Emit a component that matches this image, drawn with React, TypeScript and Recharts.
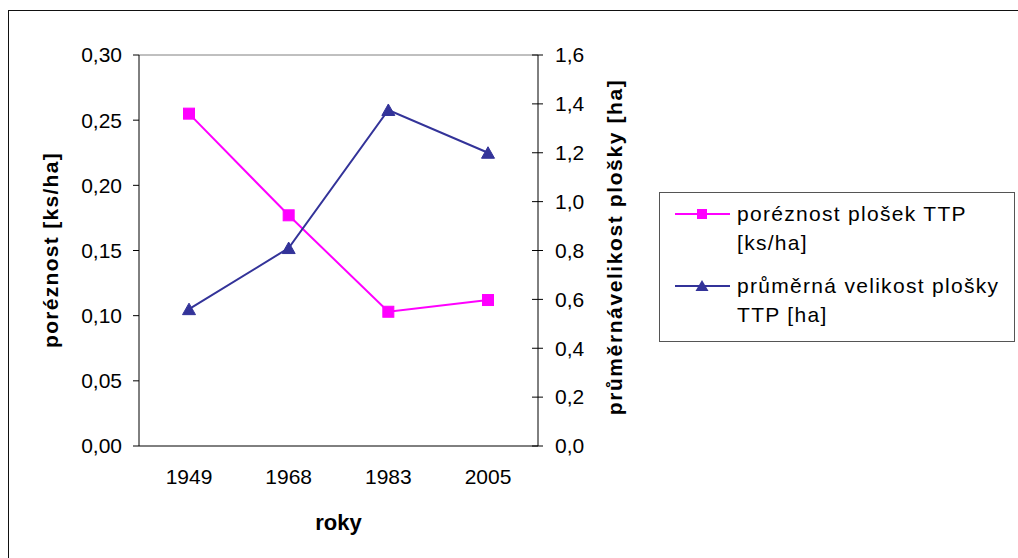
import React from "react";
import {
  LineChart,
  Line,
  XAxis,
  YAxis,
  Label,
  Legend,
  ReferenceLine,
} from "recharts";

const years = ["1949", "1968", "1983", "2005"];
const porosity = [0.255, 0.177, 0.103, 0.112];
const avgSize = [0.56, 0.81, 1.375, 1.2];
const leftTicks = [0, 0.05, 0.1, 0.15, 0.2, 0.25, 0.3];
const rightTicks = [0, 0.2, 0.4, 0.6, 0.8, 1.0, 1.2, 1.4, 1.6];
const porosityName = ["poréznost plošek TTP", "[ks/ha]"];
const sizeName = ["průměrná velikost plošky", "TTP [ha]"];

const data = years.map((y, i) => ({ year: y, porosity: porosity[i], size: avgSize[i] }));

const FONT = "'Liberation Sans', Arial, sans-serif";
const PINK = "#FF00FF";
const NAVY = "#333399";
const TICK_FS = 21;

const comma = (v: number, d: number) => v.toFixed(d).replace(".", ",");

const SquareDot = (props: any) => {
  const { cx, cy } = props;
  if (cx == null || cy == null) return null;
  return <rect x={cx - 5.5} y={cy - 5.5} width={11} height={11} fill={PINK} stroke={PINK} />;
};

const TriangleDot = (props: any) => {
  const { cx, cy } = props;
  if (cx == null || cy == null) return null;
  return (
    <polygon
      points={`${cx},${cy - 6} ${cx + 6.5},${cy + 5.5} ${cx - 6.5},${cy + 5.5}`}
      fill={NAVY}
      stroke={NAVY}
    />
  );
};

const RightTick = (props: any) => {
  const { x, y, payload } = props;
  const ax = x - 17;
  return (
    <g>
      <line x1={ax - 6} x2={ax + 5} y1={y} y2={y} stroke="#000" />
      <text x={x} y={y} dy="0.35em" textAnchor="start" fontSize={TICK_FS} fontFamily={FONT} fill="#000">
        {comma(payload.value, 1)}
      </text>
    </g>
  );
};

const LeftTitle = () => (
  <text
    x={50}
    y={250}
    transform="rotate(-90 50 250)"
    textAnchor="middle"
    dominantBaseline="central"
    fontSize={21}
    fontWeight="bold"
    letterSpacing={1.3}
    fontFamily={FONT}
    fill="#000"
  >
    poréznost [ks/ha]
  </text>
);

const RightTitle = () => (
  <text
    x={614}
    y={247}
    transform="rotate(-90 614 247)"
    textAnchor="middle"
    dominantBaseline="central"
    fontSize={21}
    fontWeight="bold"
    letterSpacing={1.6}
    fontFamily={FONT}
    fill="#000"
  >
    průměrnávelikost plošky [ha]
  </text>
);

const BottomTitle = (props: any) => {
  const vb = props.viewBox || { x: 139, width: 399 };
  return (
    <text
      x={vb.x + vb.width / 2}
      y={522}
      textAnchor="middle"
      dominantBaseline="central"
      fontSize={22}
      fontWeight="bold"
      fontFamily={FONT}
      fill="#000"
    >
      roky
    </text>
  );
};

const LegendBox = () => {
  const entries = [
    { lines: porosityName, color: PINK, shape: "square" },
    { lines: sizeName, color: NAVY, shape: "triangle" },
  ];
  return (
    <div
      style={{
        position: "relative",
        width: 354,
        height: 148,
        border: "1px solid #555",
        background: "#fff",
        fontFamily: FONT,
        fontSize: 21,
        letterSpacing: 1.3,
        color: "#000",
      }}
    >
      {entries.map((e, i) => (
        <div key={i} style={{ position: "absolute", left: 0, top: 6 + i * 72, width: 354 }}>
          <svg width={70} height={30} style={{ position: "absolute", left: 12, top: 0 }}>
            <line x1={3} x2={58} y1={15} y2={15} stroke={e.color} strokeWidth={2} />
            {e.shape === "square" ? (
              <rect x={25} y={10} width={10} height={10} fill={e.color} />
            ) : (
              <polygon points="30,9 36.5,20 23.5,20" fill={e.color} />
            )}
          </svg>
          {e.lines.map((t, j) => (
            <div
              key={j}
              style={{ position: "absolute", left: 77, top: j * 29, lineHeight: "30px", whiteSpace: "nowrap" }}
            >
              {t}
            </div>
          ))}
        </div>
      ))}
    </div>
  );
};

export default function App() {
  return (
    <div
      style={{
        position: "absolute",
        left: 0,
        top: 0,
        width: 1018,
        height: 558,
        background: "#fff",
        overflow: "hidden",
      }}
    >
      <div
        style={{
          position: "absolute",
          left: 8,
          top: 10,
          width: 1040,
          height: 580,
          border: "1px solid #111",
        }}
      />
      <div style={{ position: "absolute", left: 0, top: 0 }}>
        <LineChart
          width={1018}
          height={558}
          data={data}
          margin={{ top: 55, right: 380, bottom: 52, left: 20 }}
        >
          <XAxis
            dataKey="year"
            padding={{ left: 50, right: 50 }}
            tickLine={false}
            tickSize={0}
            tickMargin={23}
            axisLine={{ stroke: "#000" }}
            height={60}
            tick={{ fontSize: TICK_FS, fontFamily: FONT, fill: "#000" }}
          >
            <Label content={<BottomTitle />} />
          </XAxis>
          <YAxis
            yAxisId="left"
            width={119}
            domain={[0, 0.3]}
            ticks={leftTicks}
            tickFormatter={(v: number) => comma(v, 2)}
            tickSize={6}
            tickMargin={11}
            axisLine={{ stroke: "#000" }}
            tickLine={{ stroke: "#000" }}
            tick={{ fontSize: TICK_FS, fontFamily: FONT, fill: "#000" }}
          >
            <Label content={<LeftTitle />} />
          </YAxis>
          <YAxis
            yAxisId="right"
            orientation="right"
            width={100}
            domain={[0, 1.6]}
            ticks={rightTicks}
            tickSize={0}
            tickMargin={17}
            tickLine={false}
            axisLine={{ stroke: "#000" }}
            tick={<RightTick />}
          >
            <Label content={<RightTitle />} />
          </YAxis>
          <ReferenceLine yAxisId="left" y={0.3} stroke="#808080" />
          <Legend
            layout="horizontal"
            verticalAlign="middle"
            align="center"
            content={<LegendBox />}
            wrapperStyle={{ left: 659, top: 192, width: 356, height: 150 }}
          />
          <Line
            yAxisId="left"
            dataKey="porosity"
            name="poréznost plošek TTP [ks/ha]"
            stroke={PINK}
            strokeWidth={2}
            dot={<SquareDot />}
            activeDot={false}
            isAnimationActive={false}
          />
          <Line
            yAxisId="right"
            dataKey="size"
            name="průměrná velikost plošky TTP [ha]"
            stroke={NAVY}
            strokeWidth={2}
            dot={<TriangleDot />}
            activeDot={false}
            isAnimationActive={false}
          />
        </LineChart>
      </div>
    </div>
  );
}
